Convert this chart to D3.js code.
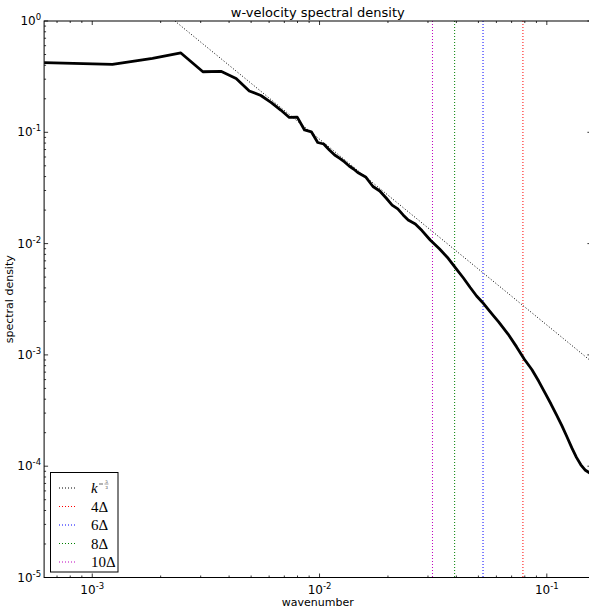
<!DOCTYPE html>
<html>
<head>
<meta charset="utf-8">
<script src="https://cdn.jsdelivr.net/npm/d3@7"></script>
<style>
  body { margin: 0; background: #fff; }
  svg { display: block; font-family: "DejaVu Sans", sans-serif; }
</style>
</head>
<body>
<div id="main"></div>
<script>
// Sizes
var svgWidth = 589;
var svgHeight = 609;
var plot = {l: 44.1, r: 591.4, t: 21, b: 577.5};

// Spectrum
var wavenumber = [0.000614, 0.001227, 0.001841, 0.002454, 0.003068, 0.003682, 0.004295, 0.004909,
	0.005522, 0.006136, 0.006750, 0.007363, 0.007977, 0.008590, 0.009204, 0.009817, 0.010431,
	0.011045, 0.011658, 0.012272, 0.012885, 0.013499, 0.014113, 0.014726, 0.015953, 0.017181,
	0.018408, 0.019635, 0.020862, 0.022089, 0.023317, 0.024544, 0.026385, 0.028226, 0.030680,
	0.033748, 0.036816, 0.039884, 0.042951, 0.046019, 0.049087, 0.052155, 0.055223, 0.058291,
	0.061359, 0.067495, 0.073631, 0.079767, 0.085903, 0.092039, 0.098175, 0.104311, 0.110447,
	0.116583, 0.122718, 0.128854, 0.134990, 0.141126, 0.147262, 0.157080];
var density = [0.422, 0.408, 0.462, 0.516, 0.350, 0.353, 0.305, 0.235,
	0.214, 0.1845, 0.1585, 0.136, 0.137, 0.105, 0.101, 0.0810, 0.0785,
	0.0693, 0.0625, 0.0582, 0.0541, 0.0498, 0.0468, 0.0435, 0.0397, 0.0326,
	0.0297, 0.0257, 0.0222, 0.0205, 0.0181, 0.0163, 0.0150, 0.0131, 0.01077,
	0.00893, 0.00738, 0.00597, 0.00491, 0.00403, 0.00338, 0.00296, 0.00256, 0.00224,
	0.00198, 0.00154, 0.00118, 0.00091, 0.00074, 0.000582, 0.000455, 0.000362, 0.000288,
	0.000230, 0.000183, 0.000146, 0.000120, 0.000103, 0.0000925, 0.0000851];

// k^-5/3 reference line end points
var refWavenumber = [0.00231, 0.15708];
var refDensity = [1.0, 0.000873];

// Resolution cut-off lines
var cutoffLabels = ['4Δ', '6Δ', '8Δ', '10Δ'];
var cutoffWavenumber = [0.0785, 0.0524, 0.0393, 0.0314];
var cutoffColors = ['#ff0000', '#0000ff', '#008000', '#bf00bf'];

var xMajor = [1e-3, 1e-2, 1e-1];
var yMajor = [1e-5, 1e-4, 1e-3, 1e-2, 1e-1, 1];

var svg = d3.select('#main')
	.append('svg')
	.attr('width', svgWidth)
	.attr('height', svgHeight);

var xScale = d3.scaleLog().domain([0.000614, 0.15708]).range([plot.l, plot.r]);
var yScale = d3.scaleLog().domain([1e-5, 1]).range([plot.b, plot.t]);

svg.append('defs').append('clipPath').attr('id', 'clip')
	.append('rect')
	.attr('x', plot.l).attr('y', plot.t)
	.attr('width', plot.r - plot.l).attr('height', plot.b - plot.t);

var g = svg.append('g').attr('clip-path', 'url(#clip)');

// reference slope
var refData = refWavenumber.map(function(k, i) { return [k, refDensity[i]]; });
g.append('path')
	.attr('d', d3.line().x(function(d) { return xScale(d[0]); }).y(function(d) { return yScale(d[1]); })(refData))
	.attr('fill', 'none')
	.attr('stroke', '#000')
	.attr('stroke-width', 1)
	.attr('stroke-dasharray', '1,2');

// cutoffs
g.selectAll('.cutoff')
	.data(cutoffWavenumber)
	.enter()
	.append('line')
	.attr('class', 'cutoff')
	.attr('x1', function(d) { return xScale(d); })
	.attr('x2', function(d) { return xScale(d); })
	.attr('y1', plot.t)
	.attr('y2', plot.b)
	.attr('stroke', function(d, i) { return cutoffColors[i]; })
	.attr('stroke-width', 1)
	.attr('stroke-dasharray', '1,2');

// spectrum
var specData = wavenumber.map(function(k, i) { return [k, density[i]]; });
g.append('path')
	.attr('d', d3.line().x(function(d) { return xScale(d[0]); }).y(function(d) { return yScale(d[1]); })(specData))
	.attr('fill', 'none')
	.attr('stroke', '#000')
	.attr('stroke-width', 2.8)
	.attr('stroke-linejoin', 'round');

// axes frame
svg.append('rect')
	.attr('x', plot.l).attr('y', plot.t)
	.attr('width', plot.r - plot.l).attr('height', plot.b - plot.t)
	.attr('fill', 'none')
	.attr('stroke', '#000')
	.attr('stroke-width', 1);

function isMajor(v) {
	var l = Math.log10(v);
	return Math.abs(l - Math.round(l)) < 1e-6;
}

var xTicks = xScale.ticks().filter(function(v) { return v > 0.000614 && v < 0.15708; });
var yTicks = yScale.ticks();

var ticks = svg.append('g').attr('stroke', '#000').attr('stroke-width', 0.8);
xTicks.forEach(function(v) {
	var len = isMajor(v) ? 4 : 2;
	var x = xScale(v);
	ticks.append('line').attr('x1', x).attr('x2', x).attr('y1', plot.b).attr('y2', plot.b - len);
	ticks.append('line').attr('x1', x).attr('x2', x).attr('y1', plot.t).attr('y2', plot.t + len);
});
yTicks.forEach(function(v) {
	var len = isMajor(v) ? 4 : 2;
	var y = yScale(v);
	ticks.append('line').attr('x1', plot.l).attr('x2', plot.l + len).attr('y1', y).attr('y2', y);
	ticks.append('line').attr('x1', plot.r).attr('x2', plot.r - len).attr('y1', y).attr('y2', y);
});

// tick labels
xMajor.forEach(function(v) {
	var t = svg.append('text')
		.attr('x', xScale(v))
		.attr('y', plot.b + 16)
		.attr('text-anchor', 'middle')
		.attr('font-size', 12)
		.attr('fill', '#000');
	t.append('tspan').text('10');
	t.append('tspan').attr('dy', -5).attr('font-size', 8.5).text(Math.round(Math.log10(v)));
});
yMajor.forEach(function(v) {
	var t = svg.append('text')
		.attr('x', plot.l - 3)
		.attr('y', yScale(v) + 4)
		.attr('text-anchor', 'end')
		.attr('font-size', 12)
		.attr('fill', '#000');
	t.append('tspan').text('10');
	t.append('tspan').attr('dy', -5).attr('font-size', 8.5).text(Math.round(Math.log10(v)));
});

// titles
svg.append('text')
	.attr('x', (plot.l + plot.r) / 2)
	.attr('y', 17)
	.attr('text-anchor', 'middle')
	.attr('font-size', 13)
	.text('w-velocity spectral density');

svg.append('text')
	.attr('x', (plot.l + plot.r) / 2)
	.attr('y', 606)
	.attr('text-anchor', 'middle')
	.attr('font-size', 11)
	.text('wavenumber');

svg.append('text')
	.attr('transform', 'translate(13,' + ((plot.t + plot.b) / 2) + ') rotate(-90)')
	.attr('text-anchor', 'middle')
	.attr('font-size', 11)
	.text('spectral density');

// legend
var legend = svg.append('g');
legend.append('rect')
	.attr('x', 50.5).attr('y', 472.5)
	.attr('width', 67.5).attr('height', 99.5)
	.attr('fill', '#fff')
	.attr('stroke', '#000')
	.attr('stroke-width', 1);

var legendColors = ['#000'].concat(cutoffColors);
legendColors.forEach(function(c, i) {
	var y = 488 + i * 18.5;
	legend.append('line')
		.attr('x1', 59).attr('x2', 77)
		.attr('y1', y).attr('y2', y)
		.attr('stroke', c)
		.attr('stroke-width', 1)
		.attr('stroke-dasharray', '1,2');
});

var serif = '"Liberation Serif", "DejaVu Serif", serif';
legend.append('text')
	.attr('x', 91).attr('y', 493)
	.attr('font-family', serif)
	.attr('font-size', 15)
	.attr('font-style', 'italic')
	.text('k');
// exponent -5/3 drawn as a small stacked fraction
legend.append('line').attr('x1', 99).attr('x2', 103).attr('y1', 484).attr('y2', 484).attr('stroke', '#000').attr('stroke-width', 0.6);
legend.append('line').attr('x1', 104.5).attr('x2', 108.5).attr('y1', 484).attr('y2', 484).attr('stroke', '#000').attr('stroke-width', 0.4);
legend.append('text').attr('x', 106.5).attr('y', 482.6).attr('font-family', serif).attr('font-size', 4.5).attr('text-anchor', 'middle').text('5');
legend.append('text').attr('x', 106.5).attr('y', 489.2).attr('font-family', serif).attr('font-size', 4.5).attr('text-anchor', 'middle').text('3');

cutoffLabels.forEach(function(lbl, i) {
	legend.append('text')
		.attr('x', 91)
		.attr('y', 488 + (i + 1) * 18.5 + 5)
		.attr('font-family', serif)
		.attr('font-size', 15)
		.text(lbl);
});
</script>
</body>
</html>
